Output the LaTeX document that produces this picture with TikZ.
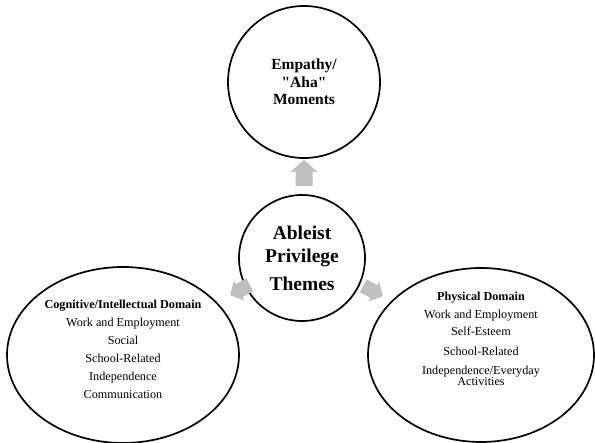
\documentclass[tikz,border=0pt]{standalone}
\usepackage{fontspec}
\setmainfont{Liberation Serif}
\usetikzlibrary{positioning,shapes.geometric}

\tikzset{
  themecircle/.style={circle, draw=black, line width=1.7pt, align=center},
  domainellipse/.style={ellipse, draw=black, line width=1.7pt},
  domaintext/.style={align=center, font=\fontsize{12.2}{13}\selectfont},
  greyarrow/.pic={
    \fill[gray!50] (13,0) -- (1,13.5) -- (1,8.5) -- (-13,8.5)
      -- (-13,-8.5) -- (1,-8.5) -- (1,-13.5) -- cycle;
  }
}

\begin{document}
\begin{tikzpicture}[x=1pt,y=-1pt]
  \useasboundingbox (0,0) rectangle (595,443);
  % The three outer shapes
  \node[themecircle, minimum size=152pt, font=\bfseries\fontsize{15.5}{17.5}\selectfont] (empathy) at (304,82)
    {Empathy/\\\textquotedbl Aha\textquotedbl\\Moments};
  \node[themecircle, minimum size=126pt, font=\bfseries\fontsize{19.5}{23}\selectfont] (themes) at (302,258)
    {Ableist\\Privilege\\[5pt]Themes};
  \node[domainellipse, minimum width=232pt, minimum height=176pt] (cognitive) at (123,355) {};
  \node[domainellipse, minimum width=226pt, minimum height=174pt] (physical) at (481,355) {};
  % Texts of the domains
  \node[domaintext] (cogtext) at (123,349)
    {\textbf{Cognitive/Intellectual Domain}\\[5pt]
     Work and Employment\\[5pt] Social\\[5pt] School-Related\\[5pt]
     Independence\\[5pt] Communication};
  \node[domaintext] (phystext) at (481,339)
    {\textbf{Physical Domain}\\[5pt]
     Work and Employment\\[4pt] Self-Esteem\\[7pt] School-Related\\[6pt]
     Independence/Everyday\\[-2pt] Activities};
  % Grey block arrows
  \pic[rotate=90] (uparrow) at (304,173) {greyarrow};
  \pic[rotate=208, scale=0.85] (leftarrow) at (240,290) {greyarrow};
  \pic[rotate=332, scale=0.85] (rightarrow) at (373,291) {greyarrow};
\end{tikzpicture}
\end{document}
